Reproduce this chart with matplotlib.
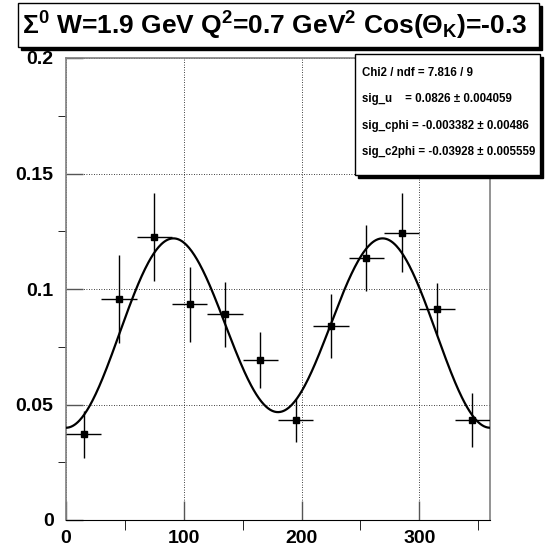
import numpy as np
import matplotlib
matplotlib.use("Agg")
import matplotlib.pyplot as plt
from matplotlib.patches import Rectangle

plt.rcParams['font.family'] = ['Liberation Sans', 'DejaVu Sans']
plt.rcParams['font.weight'] = 'bold'
plt.rcParams['mathtext.fontset'] = 'custom'
plt.rcParams['mathtext.rm'] = 'Liberation Sans:bold'
plt.rcParams['mathtext.it'] = 'Liberation Sans:bold'
plt.rcParams['mathtext.bf'] = 'Liberation Sans:bold'

# data
phi = [15, 45, 75, 105, 135, 165, 195, 225, 255, 285, 315, 345]
phi_err = [15] * 12
sigma = [0.0371, 0.0957, 0.1224, 0.0934, 0.0891, 0.0694,
         0.0431, 0.0841, 0.1134, 0.1243, 0.0912, 0.0434]
sigma_err = [0.0103, 0.0190, 0.0190, 0.0162, 0.0141, 0.0121,
             0.0094, 0.0138, 0.0144, 0.0171, 0.0112, 0.0117]

# fit parameters (from stats box)
sig_u = 0.0826
sig_cphi = -0.003382
sig_c2phi = -0.03928

title = r"$\Sigma^0$ W=1.9 GeV Q$^2$=0.7 GeV$^2$ Cos($\Theta_K$)=-0.3"
stats_lines = [
    "Chi2 / ndf = 7.816 / 9",
    "sig_u    = 0.0826 \u00b1 0.004059",
    "sig_cphi = -0.003382 \u00b1 0.00486",
    "sig_c2phi = -0.03928 \u00b1 0.005559",
]

W, H = 548, 546
fig = plt.figure(figsize=(W / 100, H / 100), dpi=100)
ax = fig.add_axes([66 / W, 1 - 520 / H, (490 - 66) / W, (520 - 58) / H])

ax.errorbar(phi, sigma, xerr=phi_err, yerr=sigma_err, fmt='s', color='black',
            ms=4.5, elinewidth=1.0, capsize=0, zorder=3)

x = np.linspace(0, 360, 500)
rad = np.deg2rad(x)
ax.plot(x, sig_u + sig_cphi * np.cos(rad) + sig_c2phi * np.cos(2 * rad),
        color='black', lw=1.6, zorder=4)

ax.set_xlim(0, 360)
ax.set_ylim(0, 0.2)
ax.set_xticks([0, 100, 200, 300])
ax.set_xticks([50, 150, 250, 350], minor=True)
ax.set_yticks([0, 0.05, 0.1, 0.15, 0.2])
ax.set_yticklabels(['0', '0.05', '0.1', '0.15', '0.2'])
ax.set_yticks([0.025, 0.075, 0.125, 0.175], minor=True)
ax.tick_params(direction='in', labelsize=14, width=1, color='#555555')
ax.tick_params(axis='x', which='major', length=14, pad=7)
ax.tick_params(axis='x', which='minor', length=7)
ax.tick_params(axis='y', which='major', length=12, pad=9)
ax.tick_params(axis='y', which='minor', length=6)
for lab in ax.get_xticklabels() + ax.get_yticklabels():
    lab.set_fontweight('bold')
ax.grid(True, which='major', linestyle=(0, (1, 2)), color='black', lw=0.6)
for s in ['left', 'right', 'top']:
    ax.spines[s].set_color('#808080')
    ax.spines[s].set_linewidth(1.2)
ax.spines['bottom'].set_color('black')


def box(x0, y0, x1, y1, sh=3):
    # white box with a black drop shadow, pixel coords from top-left
    fig.patches.append(Rectangle(((x0 + sh) / W, 1 - (y1 + sh) / H), (x1 - x0) / W,
                                 (y1 - y0) / H, transform=fig.transFigure,
                                 facecolor='black', edgecolor='black', zorder=5))
    fig.patches.append(Rectangle((x0 / W, 1 - y1 / H), (x1 - x0) / W, (y1 - y0) / H,
                                 transform=fig.transFigure, facecolor='white',
                                 edgecolor='black', lw=1.0, zorder=6))


box(18, 3, 539, 47)
fig.text(22 / W, 1 - 26 / H, title, fontsize=19.0, fontweight='bold',
         va='center', ha='left', zorder=7)

box(355, 54, 540, 175, sh=3)
for i, line in enumerate(stats_lines):
    fig.text(362 / W, 1 - (73 + 26.3 * i) / H, line, fontsize=8.3,
             fontweight='bold', va='center', ha='left', zorder=7)

fig.savefig("out.png", dpi=100)
